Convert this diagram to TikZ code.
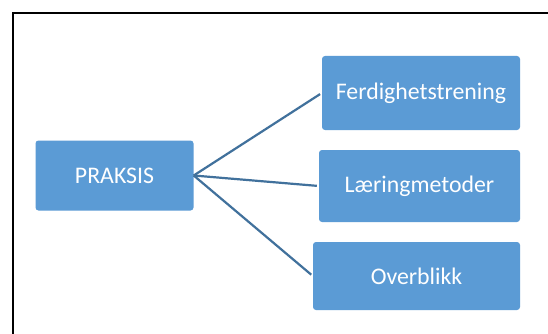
\documentclass[tikz,border=0pt]{standalone}
\usepackage{fontspec}
\setmainfont{Carlito}
\definecolor{boxblue}{HTML}{5B9BD5}
\definecolor{lineblue}{HTML}{41719C}
\begin{document}
\begin{tikzpicture}[x=1pt,y=-1pt,
  box/.style={fill=boxblue, rounded corners=3pt, text=white, inner sep=0pt,
    font=\fontsize{23.8}{28}\selectfont},
  conn/.style={draw=lineblue, line width=2.2pt, shorten >=2pt}]
\useasboundingbox (0,0) rectangle (548,334);
\fill[white] (0,0) rectangle (548,334);
\coordinate (fb) at (13,334);
\coordinate (ft) at (13,13);
\coordinate (fr) at (548,13);
\draw[line width=1.5pt] (fb) -- (ft) -- (fr);
\node[box, minimum width=158pt, minimum height=70pt] (p) at (114.5,175.5) {PRAKSIS};
\node[box, minimum width=198pt, minimum height=74pt] (f) at (421,93) {Ferdighetstrening};
\node[box, minimum width=201pt, minimum height=72pt] (l) at (419.5,186) {Læringmetoder};
\node[box, minimum width=207pt, minimum height=68pt] (o) at (416.5,276) {Overblikk};
\coordinate (s) at (p.east);
\draw[conn] (s) -- (f.west);
\draw[conn] (s) -- (l.west);
\draw[conn] (s) -- (o.west);
\end{tikzpicture}
\end{document}
